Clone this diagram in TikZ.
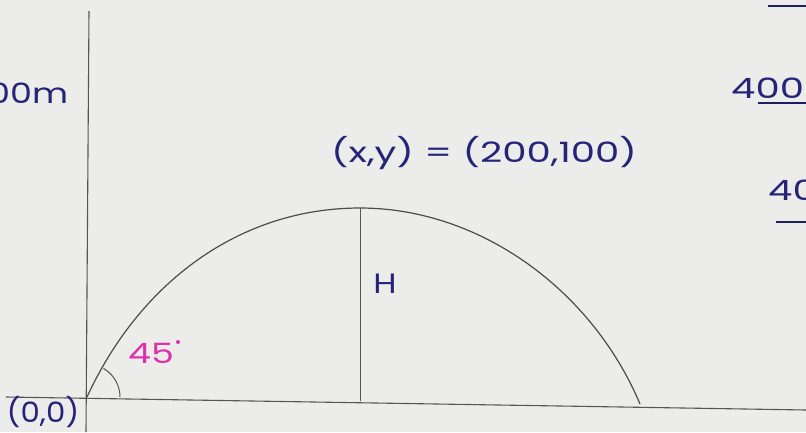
\documentclass[tikz,border=0pt]{standalone}
\usepackage{graphicx}
\usepackage{fontspec}
\setmainfont{Poppins}
\definecolor{paper}{RGB}{236,236,234}
\definecolor{ink}{RGB}{38,36,120}
\definecolor{pinkink}{RGB}{222,48,170}
\definecolor{pencil}{RGB}{85,85,85}
\newcommand{\wide}[2][1.38]{\scalebox{#1}[1]{#2}}
\begin{document}
\begin{tikzpicture}[x=1pt,y=-1pt,
  axis/.style={draw=pencil,line width=1.1pt},
  curveline/.style={draw=pencil!90!black,line width=1.2pt},
  hand/.style={text=ink,font=\fontsize{28}{32}\selectfont,inner sep=0pt},
  pinkhand/.style={text=pinkink,font=\fontsize{28}{32}\selectfont,inner sep=0pt},
  uline/.style={draw=ink!80!black,line width=1.3pt}]
\fill[paper] (0,0) rectangle (806,432);
\useasboundingbox (0,0) rectangle (806,432);
\begin{scope}
\clip (0,0) rectangle (806,432);
% axes
\coordinate (ytop) at (89,11);
\coordinate (ybot) at (86,432);
\coordinate (xleft) at (6,397);
\coordinate (xright) at (806,410);
\coordinate (O) at (87,397);
\coordinate (apex) at (360,208);
\coordinate (foot) at (360,401);
\coordinate (land) at (640,404);
\draw[axis] (ytop) -- (ybot);
\draw[axis] (xleft) -- (xright);
% trajectory
\draw[curveline] (O) .. controls (140,282) and (240,208) .. (apex)
  .. controls (480,208) and (592,290) .. (land);
% height line
\draw[axis,line width=0.9pt] (apex) -- (foot);
% angle arc
\draw[axis,line width=1pt] (120,397) arc[start angle=0,end angle=-60,radius=33];
% labels
\node[hand,anchor=center] (xy) at (484,153) {\wide{(x,y) = (200,100)}};
\node[hand] (H) at (385,284) {\wide[1.2]{H}};
\node[pinkhand] (ang) at (151,353) {\wide[1.3]{45}};
\fill[pinkink] (178,342) circle[radius=2];
\node[hand] (orig) at (43,412) {\wide[1.1]{(0,0)}};
\node[hand,anchor=west] (lm) at (-12,93) {\wide[1.25]{00m}};
\node[hand,anchor=west] (r1) at (731,88) {\wide{400}};
\draw[uline] (758,103) -- (806,103);
\node[hand,anchor=west] (r2) at (768,190) {\wide{400}};
\draw[uline] (776,222) -- (806,222);
\draw[uline] (768,6) -- (806,6);
\end{scope}
\end{tikzpicture}
\end{document}
